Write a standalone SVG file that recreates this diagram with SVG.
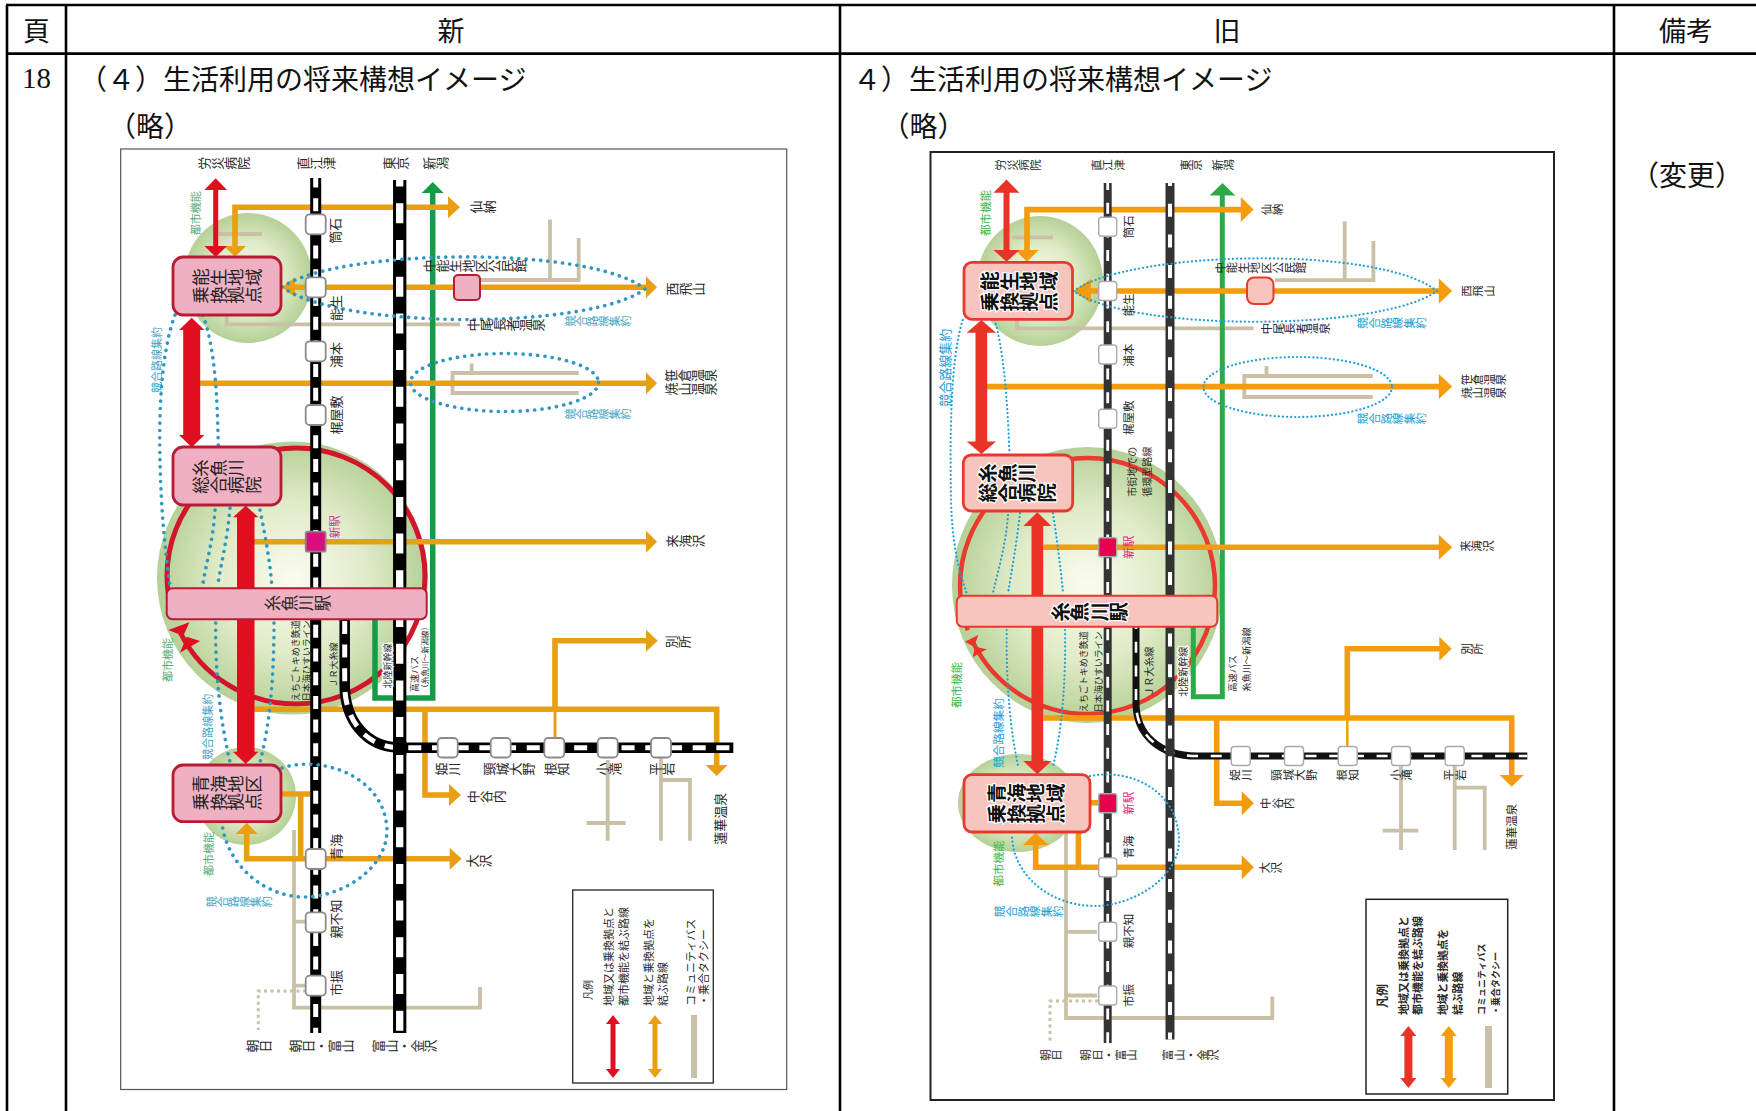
<svg xmlns="http://www.w3.org/2000/svg" width="1756" height="1111" viewBox="0 0 1756 1111">
<style>
text{font-family:"Noto Sans CJK JP","Noto Sans",sans-serif;fill:#2a2a2a;text-anchor:middle;dominant-baseline:central}
.hd{font-size:27px;fill:#111}
.st{font-size:28px;fill:#111;text-anchor:start}
.num{font-family:"Liberation Serif",serif;font-size:29px;fill:#111}
.tl{fill:none;stroke:#000;stroke-width:2.6}
.v{writing-mode:vertical-rl;text-orientation:upright}
.l13{font-size:13px}.l11{font-size:11.5px}.l9{font-size:9px}.l10{font-size:10px}
.box{font-size:17.5px;text-anchor:start;fill:#222}
.rbox{font-size:19.5px;font-weight:700;text-anchor:start;fill:#111}
.b{fill:#42a3c4;font-size:11px}.rb{fill:#1a9fd8;font-size:11.6px}
.g{fill:#5aae78;font-size:11px}.rg{fill:#3cb54a;font-size:11.5px}
.m{fill:#bf3f8f;font-size:11.5px}.rm{fill:#e5297b;font-size:11.5px}
.s{text-anchor:start}
.halo{paint-order:stroke;stroke:#fff;stroke-width:2.5px}
.or{fill:none;stroke:#e89f13;stroke-width:5.6}.oh{fill:#e89f13}
.ror{fill:none;stroke:#f39c0d;stroke-width:5.6}.roh{fill:#f39c0d}
.rd{fill:#df0f1f}.rr{fill:#e83326}
.gr{fill:none;stroke:#159a48;stroke-width:5.5}.gh{fill:#159a48}
.rgr{fill:none;stroke:#2bab47;stroke-width:5}.rgh{fill:#2bab47}
.tan{fill:none;stroke:#c9c0a5;stroke-width:3.8}
.dot{fill:none;stroke:#c9c0a5;stroke-width:3;stroke-dasharray:3 3.5}
.bd{fill:none;stroke:#2f97c0;stroke-width:3.6;stroke-linecap:round;stroke-dasharray:.1 7.2}
.rbd{fill:none;stroke:#1f9fd8;stroke-width:2.2;stroke-linecap:round;stroke-dasharray:.1 4}
.ring{fill:none;stroke:#d2152d;stroke-width:5}
.rring{fill:none;stroke:#e83a2e;stroke-width:4.5}
.node{fill:#efb0c2;stroke:#b81c34;stroke-width:2.8}
.rnode{fill:#f8c4be;stroke:#e63a2e;stroke-width:2.8}
.sta{fill:#fff;stroke:#8a8a8a;stroke-width:1.8}
.rsta{fill:#fff;stroke:#aaa;stroke-width:1.4}
.ka{stroke:#000;stroke-width:11;fill:none}.wa{stroke:#fff;stroke-width:5;stroke-dasharray:13 10.7;fill:none}
.kb{stroke:#000;stroke-width:13.3;fill:none}.wb{stroke:#fff;stroke-width:7.3;stroke-dasharray:20 16.7;fill:none}
.rka{stroke:#333;stroke-width:8;fill:none}.rwa{stroke:#fff;stroke-width:2.8;stroke-dasharray:11 12.7;fill:none}
.rkb{stroke:#333;stroke-width:9;fill:none}.rwb{stroke:#fff;stroke-width:4;stroke-dasharray:13 17.7;fill:none}
.rkc{stroke:#111;stroke-width:7;fill:none}.rwc{stroke:#fff;stroke-width:2.6;stroke-dasharray:11 12.7;fill:none}
.tan6{fill:#c9c0a5}
</style>
<defs>
<radialGradient id="gg"><stop offset="0" stop-color="#fbfcf0"/><stop offset=".55" stop-color="#e0ebc8"/><stop offset="1" stop-color="#b5d096"/></radialGradient>
</defs>
<rect width="1756" height="1111" fill="#fff"/>
<g id="table">
<path class="tl" d="M6 5H1756M6 53.6H1756M7 5V1111M66 5V1111M840 5V1111M1614 5V1111"/>
<text class="hd" x="36.5" y="29">頁</text><text class="hd" x="451" y="29">新</text><text class="hd" x="1227" y="29">旧</text><text class="hd" x="1686" y="29">備考</text>
<text class="num" x="36.5" y="78">18</text>
<text class="st" x="79" y="78">（４）生活利用の将来構想イメージ</text>
<text class="st" x="853" y="78">４）生活利用の将来構想イメージ</text>
<text class="hd" x="150" y="125" style="font-size:28px">（略）</text>
<text class="hd" x="923.5" y="125" style="font-size:28px">（略）</text>
<text class="hd" x="1687" y="174" style="font-size:28px">（変更）</text>
</g>

<g id="new-map">
<rect x="120.7" y="149" width="666" height="940.5" fill="#fff" stroke="#555" stroke-width="1.2"/>
<ellipse cx="248" cy="278" rx="64" ry="65" fill="url(#gg)"/>
<ellipse cx="292.5" cy="578" rx="135.5" ry="136.5" fill="url(#gg)"/>
<ellipse cx="246" cy="796" rx="50" ry="49" fill="url(#gg)"/>
<rect x="406.7" y="620" width="21" height="74" fill="#fff"/>
<g id="new-connectors">
<ellipse class="ring" cx="296" cy="576" rx="129" ry="128" stroke-dasharray="345 16 500"/>
<polygon class="rd" points="168.3,630 189.3,622.3 183.3,636"/>
<polygon class="rd" points="186.7,636.7 180,652.7 200,641"/>
<path class="tan" d="M218 234H262M550 219.6V280M477 280H580.6M578.7 238V280M226.7 315V324.3H460M471.7 363.4V373M578.7 373H452.5V393H578.7M294 830V1007.7H480V987M294 921.7H310M294 985.7H310M607.7 760V840.7M586.7 823H625.7M661 755V840.7M661 780H690V840.7"/>
<path class="dot" d="M306 991H258.3V1030"/>
<path class="gr" d="M432.7 190V698H375V620"/>
<polygon class="gh" points="432.7,182 421.7,193 443.7,193"/>
<path class="or" d="M448 207.3H235V247M295 287.3H646M200 383.3H646M254 541.7H646M254 709.3H716.7V766M555 709.3V640.7H646M425 709.3V795H449M246.7 834V858.7H450M281 794H310M300.7 794V858.7"/>
<path class="or" style="stroke-width:3" d="M555 709V738"/>
<polygon class="oh" points="460,207.3 448,196.3 448,218.3"/>
<polygon class="oh" points="235,256.7 224,246 246,246"/>
<polygon class="oh" points="281.7,287.3 295,277.5 295,297"/>
<polygon class="oh" points="657,287.3 646,276.3 646,298.3"/>
<polygon class="oh" points="657,383.3 646,372.3 646,394.3"/>
<polygon class="oh" points="657,541.7 646,530.7 646,552.7"/>
<polygon class="oh" points="657.7,640.7 646,629.7 646,651.7"/>
<polygon class="oh" points="716.7,776 705.7,765 727.7,765"/>
<polygon class="oh" points="461,795 449,784 449,806"/>
<polygon class="oh" points="461.7,858.7 449.7,847.7 449.7,869.7"/>
<polygon class="oh" points="246.7,822.7 235.7,834 257.7,834"/>
<path class="ka" d="M315.7 178V1033"/><path class="wa" stroke-dashoffset="3.5" d="M315.7 178V1033"/>
<path class="ka" style="stroke-width:10.5" d="M344.7 619V685C344.7 720 366 747.7 400 747.7H733.3"/>
<path class="wa" stroke-dashoffset="21.8" d="M344.7 619V685C344.7 720 366 747.7 400 747.7H733.3"/>
<path class="kb" d="M399.7 180V1033"/><path class="wb" stroke-dashoffset="13.4" d="M399.7 180V1033"/>
<rect x="393" y="741" width="13.3" height="14" fill="#000"/>
<rect class="rd" x="213.2" y="190" width="5" height="56"/>
<polygon class="rd" points="215.7,178.3 204.4,190 227,190"/>
<polygon class="rd" points="215.7,257 204.4,246 227,246"/>
<rect class="rd" x="183.2" y="330" width="17" height="105"/>
<polygon class="rd" points="191.7,317.7 179,330 204.4,330"/>
<polygon class="rd" points="191.7,447.3 179,435 204.4,435"/>
<rect class="rd" x="237" y="517" width="17.5" height="235"/>
<polygon class="rd" points="245.7,505.7 233,517.3 258.4,517.3"/>
<polygon class="rd" points="245.7,764 233,751.7 258.4,751.7"/>
<path class="bd" d="M282 287C340 248 590 245 645 289C590 330 340 330 282 287Z"/>
<ellipse class="bd" cx="504.5" cy="382.5" rx="94" ry="29"/>
<path class="bd" d="M175 315C160 355 159 420 160 460C161 510 165 550 170 586"/>
<path class="bd" d="M203 315C215 350 217 390 218.3 445"/>
<path class="bd" d="M215 510C213 540 207 560 203 583M230 508C227 540 222 560 218 583M260 510C265 535 270 560 271.7 585"/>
<path class="bd" d="M215.7 623C215 670 220 720 230 762M274 623C274 670 271 720 260 762"/>
<path class="bd" d="M282 768C320 755 385 775 387 830C387 870 340 897 305 897C260 897 225 860 222 822"/>
</g>
<g id="n-nose"><rect class="node" x="173" y="257" width="108" height="58" rx="10"/><text class="box v" transform="rotate(-90 192 277.3)" x="192" y="277.3">能生地域</text><text class="box v" transform="rotate(-90 192 295)" x="192" y="295">乗換拠点</text></g>
<g id="n-hosp"><rect class="node" x="173" y="447" width="108" height="58" rx="10"/><text class="box v" transform="rotate(-90 192 468)" x="192" y="468">糸魚川</text><text class="box v" transform="rotate(-90 192 485)" x="192" y="485">総合病院</text></g>
<g id="n-ome"><rect class="node" x="173" y="765" width="108" height="56.7" rx="10"/><text class="box v" transform="rotate(-90 192 784)" x="192" y="784">青海地区</text><text class="box v" transform="rotate(-90 192 801.7)" x="192" y="801.7">乗換拠点</text></g>
<g id="n-itoigawa"><rect class="node" style="stroke-width:2" x="166.7" y="588.3" width="260" height="31" rx="6"/><text class="v" style="font-size:16.5px" transform="rotate(-90 297.5 603)" x="297.5" y="603">糸魚川駅</text></g>
<g id="n-nakanou"><rect class="node" style="stroke-width:2" x="454" y="275" width="26" height="25" rx="4"/></g>
<g id="n-stations">
<rect class="sta" x="305.7" y="214.3" width="20" height="20" rx="4"/><rect class="sta" x="305.7" y="277.3" width="20" height="20" rx="4"/><rect class="sta" x="305.7" y="341.3" width="20" height="20" rx="4"/><rect class="sta" x="305.7" y="405" width="20" height="20" rx="4"/>
<rect class="sta" style="fill:#d8107c" x="305.7" y="531.7" width="20" height="20" rx="2"/>
<rect class="sta" x="305.7" y="849" width="20" height="20" rx="4"/><rect class="sta" x="305.7" y="912.3" width="20" height="20" rx="4"/><rect class="sta" x="305.7" y="975.7" width="20" height="20" rx="4"/>
<rect class="sta" x="437.7" y="738" width="20" height="19.5" rx="4"/><rect class="sta" x="490.7" y="738" width="20" height="19.5" rx="4"/><rect class="sta" x="544.3" y="738" width="20" height="19.5" rx="4"/><rect class="sta" x="597.7" y="738" width="20" height="19.5" rx="4"/><rect class="sta" x="651" y="738" width="20" height="19.5" rx="4"/>
</g>
<g id="new-labels">
<text class="l13 v" transform="rotate(-90 224 163.3)" x="224" y="163.3">労災病院</text><text class="l13 v" transform="rotate(-90 315.7 163.3)" x="315.7" y="163.3">直江津</text><text class="l13 v" transform="rotate(-90 395.7 163.3)" x="395.7" y="163.3">東京</text><text class="l13 v" transform="rotate(-90 436 163.3)" x="436" y="163.3">新潟</text>
<text class="l13 v" transform="rotate(-90 483 207)" x="483" y="207">仙納</text><text class="l13 v" transform="rotate(-90 474.5 266)" x="474.5" y="266">中能生地区公民館</text><text class="l13 v" transform="rotate(-90 685 289)" x="685" y="289">西飛山</text><text class="l13 v" transform="rotate(-90 506 325)" x="506" y="325">中尾長者温泉</text>
<text class="l13 v" transform="rotate(-90 691 375.5)" x="691" y="375.5">笹倉温泉</text><text class="l13 v" transform="rotate(-90 691 389)" x="691" y="389">焼山温泉</text><text class="l13 v" transform="rotate(-90 685 541)" x="685" y="541">来海沢</text>
<text class="b v" transform="rotate(-90 598 321)" x="598" y="321">競合路線集約</text><text class="b v" transform="rotate(-90 598 414)" x="598" y="414">競合路線集約</text><text class="b v" transform="rotate(-90 239 901.7)" x="239" y="901.7">競合路線集約</text>
<text class="l13" transform="rotate(-90 335 230.7)" x="335" y="230.7">筒石</text><text class="l13" transform="rotate(-90 335.7 308)" x="335.7" y="308">能生</text><text class="l13" transform="rotate(-90 335.7 355)" x="335.7" y="355">浦本</text><text class="l13" transform="rotate(-90 335.7 415)" x="335.7" y="415">梶屋敷</text>
<text class="l13" transform="rotate(-90 335.7 847)" x="335.7" y="847">青海</text><text class="l13" transform="rotate(-90 335.7 919)" x="335.7" y="919">親不知</text><text class="l13" transform="rotate(-90 335.7 983)" x="335.7" y="983">市振</text>
<text class="m" transform="rotate(-90 334 526.7)" x="334" y="526.7">新駅</text>
<text class="g" transform="rotate(-90 195 213.3)" x="195" y="213.3">都市機能</text><text class="g" transform="rotate(-90 166.7 660)" x="166.7" y="660">都市機能</text><text class="g" transform="rotate(-90 208.3 854)" x="208.3" y="854">都市機能</text>
<text class="b" transform="rotate(-90 155.7 360)" x="155.7" y="360">競合路線集約</text><text class="b" transform="rotate(-90 206.7 726.7)" x="206.7" y="726.7">競合路線集約</text>
<text class="l9" transform="rotate(-90 295.7 660.7)" x="295.7" y="660.7">えちごトキめき鉄道</text><text class="l9" transform="rotate(-90 306.7 660.7)" x="306.7" y="660.7">日本海ひすいライン</text>
<text class="l9" transform="rotate(-90 333 665)" x="333" y="665">ＪＲ大糸線</text>
<text class="l9 halo" transform="rotate(-90 387 666)" x="387" y="666">北陸新幹線</text>
<text class="l9 s" transform="rotate(-90 414 692)" x="414" y="692">高速バス</text><text class="s" style="font-size:7.7px" transform="rotate(-90 424 692)" x="424" y="692">（糸魚川～新潟線）</text>
<text class="l13 v" transform="rotate(-90 448 769)" x="448" y="769">姫川</text><text class="l13 v" transform="rotate(-90 508.3 769)" x="508.3" y="769">頸城大野</text><text class="l13 v" transform="rotate(-90 556.7 769)" x="556.7" y="769">根知</text><text class="l13 v" transform="rotate(-90 609 769)" x="609" y="769">小滝</text><text class="l13 v" transform="rotate(-90 662 769)" x="662" y="769">平岩</text>
<text class="l13" transform="rotate(-90 720 818.7)" x="720" y="818.7">蓮華温泉</text>
<text class="l13 v" transform="rotate(-90 485.7 796.7)" x="485.7" y="796.7">中谷内</text><text class="l13 v" transform="rotate(-90 478.7 861)" x="478.7" y="861">大沢</text><text class="l13 v" transform="rotate(-90 678 641.7)" x="678" y="641.7">別所</text>
<text class="l13 v" transform="rotate(-90 259 1046)" x="259" y="1046">朝日</text><text class="l13 v" transform="rotate(-90 321 1046)" x="321" y="1046">朝日・富山</text><text class="l13 v" transform="rotate(-90 404.3 1046)" x="404.3" y="1046">富山・金沢</text>
</g>
<g id="new-legend">
<rect x="572.7" y="890" width="140.6" height="193" fill="#fff" stroke="#333" stroke-width="1.4"/>
<text class="l10 s" transform="rotate(-90 587 1000)" x="587" y="1000">凡例</text>
<text class="s" style="font-size:11px" transform="rotate(-90 607.7 1006)" x="607.7" y="1006">地域又は乗換拠点と</text><text class="s" style="font-size:11px" transform="rotate(-90 622.5 1006)" x="622.5" y="1006">都市機能を結ぶ路線</text>
<text class="s" style="font-size:11px" transform="rotate(-90 648 1006)" x="648" y="1006">地域と乗換拠点を</text><text class="s" style="font-size:11px" transform="rotate(-90 662 1006)" x="662" y="1006">結ぶ路線</text>
<text class="s" style="font-size:11px" transform="rotate(-90 690 1006)" x="690" y="1006">コミュニティバス</text><text class="s" style="font-size:11px" transform="rotate(-90 703 1006)" x="703" y="1006">・乗合タクシー</text>
<rect class="rd" x="610.5" y="1023" width="5" height="47"/><polygon class="rd" points="613,1015 606,1024 620,1024"/><polygon class="rd" points="613,1078 606,1069 620,1069"/>
<rect class="oh" x="652.5" y="1023" width="5" height="47"/><polygon class="oh" points="655,1015 648,1024 662,1024"/><polygon class="oh" points="655,1078 648,1069 662,1069"/>
<rect class="tan6" x="691" y="1015" width="6" height="63"/>
</g>
</g>

<g id="old-map">
<rect x="930.5" y="152" width="623.5" height="948" fill="#fff" stroke="#222" stroke-width="2"/>
<ellipse cx="1040" cy="281" rx="63" ry="65" fill="url(#gg)"/>
<ellipse cx="1087.5" cy="585" rx="135.5" ry="138" fill="url(#gg)"/>
<ellipse cx="1018" cy="803" rx="60" ry="49" fill="url(#gg)"/>
<g id="old-connectors">
<ellipse class="rring" cx="1087.5" cy="586" rx="127.5" ry="128" stroke-dasharray="342 14 500"/>
<polygon class="rr" points="965,641.7 978.3,635 974,646.7"/>
<polygon class="rr" points="975,646.7 972.7,657.3 986.7,649.3"/>
<path class="tan" d="M1012 237.4H1053M1344.7 221.3V282M1275 280.2H1375.3M1373.4 241V282M1017 320V328.4H1253.6M1266.5 366V376M1372.8 376H1244.3V397H1372.8M1066 832V1018H1272.3V996.5M1066 931.8H1097M1066 995.5H1097M1401 755V850M1382.7 830.7H1418.3M1454.7 760V850M1454.7 787.7H1484.7V850"/>
<path class="dot" d="M1098 1001H1050V1042"/>
<path class="rgr" d="M1222.3 190V696.7H1193.3V620"/>
<polygon class="rgh" points="1222.5,183 1209.7,195.6 1235.3,195.6"/>
<path class="ror" d="M1241 209.6H1027V250M1091 291H1439M983 386.6H1439M1043.3 547.3H1439M1043.3 718H1511.7V775M1347.3 718V648.7H1440M1216.7 718V803.3H1242M1035.7 845V867.3H1242M1090 802.7H1098M1078.4 832V867"/>
<path class="ror" style="stroke-width:2.5" d="M1347.3 718V747"/>
<polygon class="roh" points="1253.6,209.6 1240.8,197.1 1240.8,222.1"/>
<polygon class="roh" points="1027,261.7 1015.3,250 1038.7,250"/>
<polygon class="roh" points="1073.7,291 1091,279 1091,303"/>
<polygon class="roh" points="1452.2,291 1438.8,278.5 1438.8,303.5"/>
<polygon class="roh" points="1452.2,386.6 1438.8,374.1 1438.8,399.1"/>
<polygon class="roh" points="1452.2,547.3 1438.8,534.8 1438.8,559.8"/>
<polygon class="roh" points="1451.7,648.7 1439.3,636.7 1439.3,660.7"/>
<polygon class="roh" points="1511.7,786.7 1499.7,775 1523.7,775"/>
<polygon class="roh" points="1254,803.3 1241.7,791.3 1241.7,815.3"/>
<polygon class="roh" points="1254,867.3 1241.7,855.3 1241.7,879.3"/>
<polygon class="roh" points="1035.7,832.7 1022.9,845 1048.5,845"/>
<path class="rka" d="M1107.7 183V1043"/><path class="rwa" stroke-dashoffset="4" d="M1107.7 183V1043"/>
<path class="rkc" d="M1136 626V703C1136 735 1160 756 1196.7 756H1527.3"/>
<path class="rwc" stroke-dashoffset="8" d="M1136 626V703C1136 735 1160 756 1196.7 756H1527.3"/>
<path class="rkb" d="M1170 183V1039.5"/><path class="rwb" stroke-dashoffset="10" d="M1170 183V1039.5"/>
<rect class="rr" x="1003.5" y="192" width="6" height="58"/>
<polygon class="rr" points="1006.5,179.6 993.5,192.8 1019.5,192.8"/>
<polygon class="rr" points="1006.5,261.7 993.5,250 1019.5,250"/>
<rect class="rr" x="975.5" y="332" width="11.7" height="110"/>
<polygon class="rr" points="981.4,320 966.8,332.7 996,332.7"/>
<polygon class="rr" points="981.4,454 966.8,441.6 996,441.6"/>
<rect class="rr" x="1031.5" y="526" width="11.7" height="235"/>
<polygon class="rr" points="1037.3,512.3 1023.3,526 1051.3,526"/>
<polygon class="rr" points="1037.3,774.3 1023.3,761 1051.3,761"/>
<path class="rbd" d="M1073.7 291C1130 250 1380 245 1437 291C1380 332 1130 332 1073.7 291Z"/>
<ellipse class="rbd" cx="1297.7" cy="387" rx="94.3" ry="30"/>
<path class="rbd" d="M962.7 320C950 360 950 440 951 500C952 540 958 570 966.7 593"/>
<path class="rbd" d="M994.8 320C1003 350 1007 390 1009.4 451.6"/>
<path class="rbd" d="M1008 515C1006 545 998 570 993 593M1020 513C1017 540 1012 570 1008 593M1053 513C1057 540 1061 570 1063 593"/>
<path class="rbd" d="M1006.7 630C1006 680 1010 730 1018.3 766.7M1065 630C1066 680 1062 730 1053 766.7"/>
<path class="rbd" d="M1090 776C1130 768 1178 790 1179 840C1179 880 1130 906 1095 906C1050 906 1012 875 1012 834"/>
</g>
<g id="o-nose"><rect class="rnode" x="964" y="262.4" width="108.5" height="57" rx="8"/><text class="rbox halo v" transform="rotate(-90 980 281)" x="980" y="281">能生地域</text><text class="rbox halo v" transform="rotate(-90 980 301.7)" x="980" y="301.7">乗換拠点</text></g>
<g id="o-hosp"><rect class="rnode" x="963.3" y="455" width="109.4" height="56" rx="8"/><text class="rbox halo v" transform="rotate(-90 978.3 473)" x="978.3" y="473">糸魚川</text><text class="rbox halo v" transform="rotate(-90 978.3 492.7)" x="978.3" y="492.7">総合病院</text></g>
<g id="o-ome"><rect class="rnode" x="964" y="774.7" width="126" height="57.3" rx="8"/><text class="rbox halo v" transform="rotate(-90 987 793)" x="987" y="793">青海地域</text><text class="rbox halo v" transform="rotate(-90 987 813.7)" x="987" y="813.7">乗換拠点</text></g>
<g id="o-itoigawa"><rect class="rnode" style="stroke-width:2" x="956.7" y="595.7" width="260.6" height="31" rx="6"/><text class="halo v" style="font-size:19.5px;font-weight:700;fill:#111" transform="rotate(-90 1089.7 611.7)" x="1089.7" y="611.7">糸魚川駅</text></g>
<g id="o-nakanou"><rect class="rnode" style="stroke-width:2" x="1247" y="277.4" width="26.5" height="26.6" rx="7"/></g>
<g id="o-stations">
<rect class="rsta" x="1098.7" y="217.2" width="18" height="19" rx="3"/><rect class="rsta" x="1098.7" y="281.5" width="18" height="19" rx="3"/><rect class="rsta" x="1098.7" y="345" width="18" height="19" rx="3"/><rect class="rsta" x="1098.7" y="409.2" width="18" height="19" rx="3"/>
<rect class="rsta" style="fill:#e6004e" x="1098.7" y="537.8" width="18" height="19" rx="2"/><rect class="rsta" style="fill:#e6004e" x="1098.7" y="793.8" width="18" height="19" rx="2"/>
<rect class="rsta" x="1098.7" y="857.9" width="18" height="19" rx="3"/><rect class="rsta" x="1098.7" y="922.3" width="18" height="19" rx="3"/><rect class="rsta" x="1098.7" y="986" width="18" height="19" rx="3"/>
<rect class="rsta" x="1231.2" y="746.5" width="19" height="19" rx="3"/><rect class="rsta" x="1284.5" y="746.5" width="19" height="19" rx="3"/><rect class="rsta" x="1338.2" y="746.5" width="19" height="19" rx="3"/><rect class="rsta" x="1391.5" y="746.5" width="19" height="19" rx="3"/><rect class="rsta" x="1445.2" y="746.5" width="19" height="19" rx="3"/>
</g>
<g id="old-labels">
<text class="l11 v" transform="rotate(-90 1018 165)" x="1018" y="165">労災病院</text><text class="l11 v" transform="rotate(-90 1108 165)" x="1108" y="165">直江津</text><text class="l11 v" transform="rotate(-90 1191 165)" x="1191" y="165">東京</text><text class="l11 v" transform="rotate(-90 1223 165)" x="1223" y="165">新潟</text>
<text class="l11 v" transform="rotate(-90 1272 209.6)" x="1272" y="209.6">仙納</text><text class="l11 v" transform="rotate(-90 1260.6 267.8)" x="1260.6" y="267.8">中能生地区公民館</text><text class="l11 v" transform="rotate(-90 1478 291)" x="1478" y="291">西飛山</text><text class="l11 v" transform="rotate(-90 1295.7 328.4)" x="1295.7" y="328.4">中尾長者温泉</text>
<text class="l11 v" transform="rotate(-90 1483.8 379.5)" x="1483.8" y="379.5">笹倉温泉</text><text class="l11 v" transform="rotate(-90 1483.8 392.7)" x="1483.8" y="392.7">焼山温泉</text><text class="l11 v" transform="rotate(-90 1476.8 546)" x="1476.8" y="546">来海沢</text>
<text class="rb v" transform="rotate(-90 1392 323)" x="1392" y="323">競合路線集約</text><text class="rb v" transform="rotate(-90 1392 418.4)" x="1392" y="418.4">競合路線集約</text><text class="rb v" transform="rotate(-90 1029 911.4)" x="1029" y="911.4">競合路線集約</text>
<text class="l11" transform="rotate(-90 1128 226.7)" x="1128" y="226.7">筒石</text><text class="l11" transform="rotate(-90 1128 305)" x="1128" y="305">能生</text><text class="l11" transform="rotate(-90 1128 355.2)" x="1128" y="355.2">浦本</text><text class="l11" transform="rotate(-90 1128 417.7)" x="1128" y="417.7">梶屋敷</text>
<text class="l11" transform="rotate(-90 1128 847)" x="1128" y="847">青海</text><text class="l11" transform="rotate(-90 1128 931)" x="1128" y="931">親不知</text><text class="l11" transform="rotate(-90 1128 995.5)" x="1128" y="995.5">市振</text>
<text class="rm" transform="rotate(-90 1128 547.3)" x="1128" y="547.3">新駅</text><text class="rm" transform="rotate(-90 1128 803.3)" x="1128" y="803.3">新駅</text>
<text class="rg" transform="rotate(-90 985 213)" x="985" y="213">都市機能</text><text class="rg" transform="rotate(-90 956 685)" x="956" y="685">都市機能</text><text class="rg" transform="rotate(-90 997.7 863.5)" x="997.7" y="863.5">都市機能</text>
<text class="rb" style="font-size:13px" transform="rotate(-90 945 367.7)" x="945" y="367.7">競合路線集約</text><text class="rb" transform="rotate(-90 998 733)" x="998" y="733">競合路線集約</text>
<text class="l10 s" transform="rotate(-90 1131.7 496.7)" x="1131.7" y="496.7">市街地での</text><text class="l10 s" transform="rotate(-90 1146.7 496.7)" x="1146.7" y="496.7">循環型路線</text>
<text class="l9" transform="rotate(-90 1083.3 671.7)" x="1083.3" y="671.7">えちごトキめき鉄道</text><text class="l9" transform="rotate(-90 1098.3 671.7)" x="1098.3" y="671.7">日本海ひすいライン</text>
<text class="l10" transform="rotate(-90 1148.3 671.7)" x="1148.3" y="671.7">ＪＲ大糸線</text><text class="l10 halo" transform="rotate(-90 1182.3 671.7)" x="1182.3" y="671.7">北陸新幹線</text>
<text class="s" style="font-size:9.2px" transform="rotate(-90 1231.7 691.7)" x="1231.7" y="691.7">高速バス</text><text class="s" style="font-size:9.2px" transform="rotate(-90 1245.7 691.7)" x="1245.7" y="691.7">糸魚川～新潟線</text>
<text class="l11 v" transform="rotate(-90 1240.7 775)" x="1240.7" y="775">姫川</text><text class="l11 v" transform="rotate(-90 1294 775)" x="1294" y="775">頸城大野</text><text class="l11 v" transform="rotate(-90 1347.7 775)" x="1347.7" y="775">根知</text><text class="l11 v" transform="rotate(-90 1401 775)" x="1401" y="775">小滝</text><text class="l11 v" transform="rotate(-90 1454.7 775)" x="1454.7" y="775">平岩</text>
<text class="l11" transform="rotate(-90 1511 826.7)" x="1511" y="826.7">蓮華温泉</text>
<text class="l11 v" transform="rotate(-90 1277.3 803.3)" x="1277.3" y="803.3">中谷内</text><text class="l11 v" transform="rotate(-90 1270.7 867.7)" x="1270.7" y="867.7">大沢</text><text class="l11 v" transform="rotate(-90 1472 648.7)" x="1472" y="648.7">別所</text>
<text class="l11 v" transform="rotate(-90 1051 1055)" x="1051" y="1055">朝日</text><text class="l11 v" transform="rotate(-90 1108.7 1055)" x="1108.7" y="1055">朝日・富山</text><text class="l11 v" transform="rotate(-90 1191 1055)" x="1191" y="1055">富山・金沢</text>
</g>
<g id="old-legend">
<rect x="1366" y="899.3" width="141.7" height="194.7" fill="#fff" stroke="#222" stroke-width="1.5"/>
<text class="s" style="font-size:12px;font-weight:700" transform="rotate(-90 1381.7 1008)" x="1381.7" y="1008">凡例</text>
<text class="s" style="font-size:11px;font-weight:700" transform="rotate(-90 1403.3 1015)" x="1403.3" y="1015">地域又は乗換拠点と</text><text class="s" style="font-size:11px;font-weight:700" transform="rotate(-90 1417.3 1015)" x="1417.3" y="1015">都市機能を結ぶ路線</text>
<text class="s" style="font-size:10.8px;font-weight:700" transform="rotate(-90 1442.3 1015)" x="1442.3" y="1015">地域と乗換拠点を</text><text class="s" style="font-size:10.8px;font-weight:700" transform="rotate(-90 1456.7 1015)" x="1456.7" y="1015">結ぶ路線</text>
<text class="s" style="font-size:9px;font-weight:700" transform="rotate(-90 1481 1015)" x="1481" y="1015">コミュニティバス</text><text class="s" style="font-size:9px;font-weight:700" transform="rotate(-90 1495 1015)" x="1495" y="1015">・乗合タクシー</text>
<rect class="rr" x="1404.4" y="1036" width="8" height="42"/><polygon class="rr" points="1408.4,1026 1400.4,1036 1416.4,1036"/><polygon class="rr" points="1408.4,1088 1400.4,1078 1416.4,1078"/>
<rect class="roh" x="1444.8" y="1036" width="8" height="42"/><polygon class="roh" points="1448.8,1026 1440.8,1036 1456.8,1036"/><polygon class="roh" points="1448.8,1088 1440.8,1078 1456.8,1078"/>
<rect class="tan6" x="1485" y="1026" width="7" height="62"/>
</g>
</g>
</svg>
